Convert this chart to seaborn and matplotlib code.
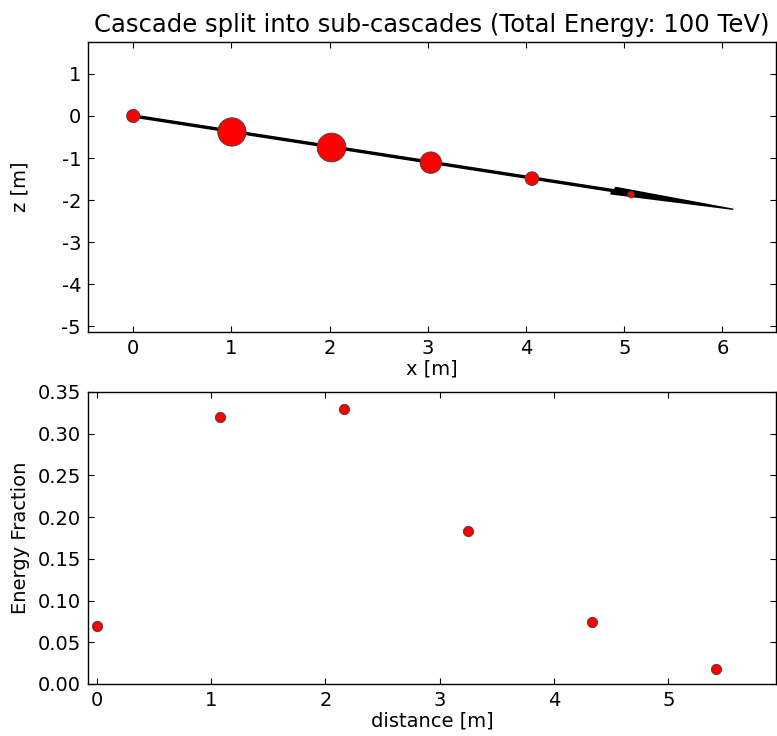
import matplotlib
matplotlib.use("Agg")
import matplotlib.pyplot as plt
import seaborn as sns
import numpy as np
import pandas as pd

# ---- data ----
distance = [0.0, 1.083, 2.167, 3.250, 4.333, 5.417]          # m along cascade axis
energy_fraction = [0.0695, 0.320, 0.330, 0.1835, 0.0743, 0.018]
x_pos = [0.0, 1.005, 2.02, 3.03, 4.06, 5.07]                  # m
z_pos = [0.0, -0.38, -0.75, -1.11, -1.49, -1.87]              # m
arrow_start = (0.0, 0.0)
arrow_end = (6.11, -2.22)
title = "Cascade split into sub-cascades (Total Energy: 100 TeV)"

sns.set_theme(style="white")
plt.rcParams.update({
    "font.family": ["DejaVu Sans"],
    "font.size": 14,
    "axes.unicode_minus": False,
    "axes.linewidth": 1.0,
    "axes.edgecolor": "black",
    "xtick.direction": "in",
    "ytick.direction": "in",
    "xtick.top": True,
    "ytick.right": True,
    "xtick.major.size": 4,
    "ytick.major.size": 4,
    "xtick.major.width": 0.8,
    "ytick.major.width": 0.8,
    "xtick.major.pad": 5,
    "ytick.major.pad": 5,
    "xtick.labelsize": 14,
    "ytick.labelsize": 14,
    "xtick.color": "black",
    "ytick.color": "black",
    "axes.labelcolor": "black",
    "text.color": "black",
})

fig = plt.figure(figsize=(7.77, 7.36), dpi=100)
ax1 = fig.add_axes([0.1133, 0.5489, 0.8854, 0.394])
ax2 = fig.add_axes([0.1133, 0.0707, 0.8854, 0.3967])

df = pd.DataFrame({"x": x_pos, "z": z_pos, "distance": distance,
                   "fraction": energy_fraction})

# top: arrow + sub-cascades sized by energy
ax1.arrow(arrow_start[0], arrow_start[1],
          arrow_end[0] - arrow_start[0], arrow_end[1] - arrow_start[1],
          width=0.045, head_width=0.16, head_length=1.3,
          length_includes_head=True, fc="black", ec="black", lw=1, zorder=1)
scale = 1300
sns.scatterplot(data=df, x="x", y="z", size="fraction",
                sizes=(scale * min(energy_fraction), scale * max(energy_fraction)),
                color="red", edgecolor="0.25", linewidth=0.6,
                legend=False, ax=ax1, zorder=3)
ax1.set_xlim(-0.46, 6.545)
ax1.set_ylim(-5.14, 1.76)
ax1.set_xticks(range(0, 7))
ax1.set_yticks(range(-5, 2))
ax1.set_xlabel("x [m]", fontsize=14, labelpad=1)
ax1.set_ylabel("z [m]", fontsize=14)
ax1.set_title(title, fontsize=17.5, pad=7)

# bottom: energy fraction vs distance
sns.scatterplot(data=df, x="distance", y="fraction", s=55,
                color="red", edgecolor="0.25", linewidth=0.6,
                legend=False, ax=ax2, zorder=3)
ax2.set_xlim(-0.075, 5.94)
ax2.set_ylim(0.0, 0.35)
ax2.set_xticks(range(0, 6))
ax2.set_yticks(np.arange(0, 0.351, 0.05))
ax2.set_xlabel("distance [m]", fontsize=14, labelpad=1)
ax2.set_ylabel("Energy Fraction", fontsize=14)

for ax in (ax1, ax2):
    for sp in ax.spines.values():
        sp.set_visible(True)
        sp.set_color("black")
        sp.set_linewidth(1.0)
    ax.tick_params(which="both", direction="in", top=True, right=True,
                   bottom=True, left=True)
    ax.grid(False)
    ax.yaxis.set_label_coords(-0.085, 0.5)

fig.savefig("out.png", dpi=100, facecolor="white")
